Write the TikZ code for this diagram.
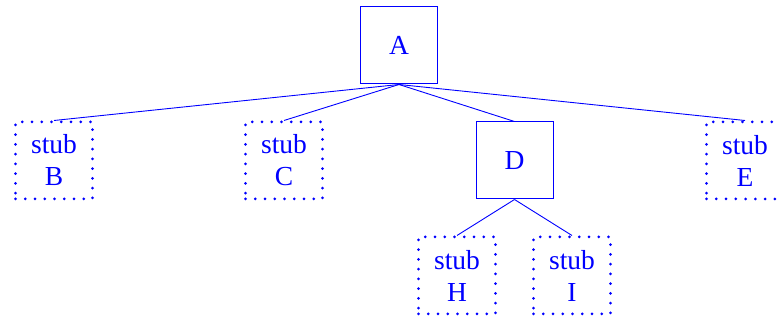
\documentclass[tikz,border=0pt]{standalone}
\usepackage{fontspec}
\setmainfont{Liberation Serif}
\begin{document}
\begin{tikzpicture}[x=1pt,y=1pt,
  every node/.style={text=blue, font=\fontsize{27.5}{32}\selectfont, align=center, inner sep=0pt, minimum width=77pt, minimum height=77pt},
  solidbox/.style={draw=blue, line width=1pt},
  stubbox/.style={draw=blue, line width=3pt, line cap=round, dash pattern=on 0pt off 9.75pt},
  edge/.style={draw=blue, line width=0.9pt}]
\useasboundingbox (0,0) rectangle (777,320);
\node[solidbox] (A) at (399,274.5) {A};
\node[stubbox] (B) at (54,159.5) {stub\\B};
\node[stubbox] (C) at (284,159.5) {stub\\C};
\node[solidbox] (D) at (514.5,159.5) {D};
\node[stubbox] (E) at (745,159.5) {stub\\E};
\node[stubbox] (H) at (457,44.5) {stub\\H};
\node[stubbox] (I) at (572,44.5) {stub\\I};
\draw[edge] (A.south) -- (B.north);
\draw[edge] (A.south) -- (C.north);
\draw[edge] (A.south) -- (D.north);
\draw[edge] (A.south) -- (E.north);
\draw[edge] (D.south) -- (H.north);
\draw[edge] (D.south) -- (I.north);
\end{tikzpicture}
\end{document}
